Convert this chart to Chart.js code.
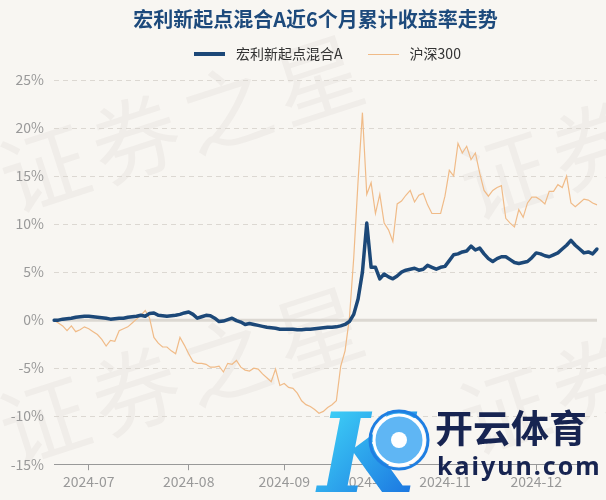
<!DOCTYPE html>
<html>
<head>
<meta charset="utf-8">
<script src="https://cdn.jsdelivr.net/npm/chart.js@4.4.1/dist/chart.umd.min.js"></script>
<style>
  html, body { margin: 0; padding: 0; background: #f8f6f2; }
</style>
</head>
<body>
<canvas id="returnChart" width="606" height="500"></canvas>
<script>
// trading days shown on the x axis
const dates = [
    '2024-06-19','2024-06-20','2024-06-21','2024-06-24','2024-06-25','2024-06-26','2024-06-27','2024-06-28',
    '2024-07-01','2024-07-02','2024-07-03','2024-07-04','2024-07-05','2024-07-08','2024-07-09','2024-07-10',
    '2024-07-11','2024-07-12','2024-07-15','2024-07-16','2024-07-17','2024-07-18','2024-07-19','2024-07-22',
    '2024-07-23','2024-07-24','2024-07-25','2024-07-26','2024-07-29','2024-07-30','2024-07-31',
    '2024-08-01','2024-08-02','2024-08-05','2024-08-06','2024-08-07','2024-08-08','2024-08-09','2024-08-12',
    '2024-08-13','2024-08-14','2024-08-15','2024-08-16','2024-08-19','2024-08-20','2024-08-21','2024-08-22',
    '2024-08-23','2024-08-26','2024-08-27','2024-08-28','2024-08-29','2024-08-30',
    '2024-09-02','2024-09-03','2024-09-04','2024-09-05','2024-09-06','2024-09-09','2024-09-10','2024-09-11',
    '2024-09-12','2024-09-13','2024-09-18','2024-09-19','2024-09-20','2024-09-23','2024-09-24','2024-09-25',
    '2024-09-26','2024-09-27','2024-09-30',
    '2024-10-08','2024-10-09','2024-10-10','2024-10-11','2024-10-14','2024-10-15','2024-10-16','2024-10-17',
    '2024-10-18','2024-10-21','2024-10-22','2024-10-23','2024-10-24','2024-10-25','2024-10-28','2024-10-29',
    '2024-10-30','2024-10-31',
    '2024-11-01','2024-11-04','2024-11-05','2024-11-06','2024-11-07','2024-11-08','2024-11-11','2024-11-12',
    '2024-11-13','2024-11-14','2024-11-15','2024-11-18','2024-11-19','2024-11-20','2024-11-21','2024-11-22',
    '2024-11-25','2024-11-26','2024-11-27','2024-11-28','2024-11-29',
    '2024-12-02','2024-12-03','2024-12-04','2024-12-05','2024-12-06','2024-12-09','2024-12-10','2024-12-11',
    '2024-12-12','2024-12-13','2024-12-16','2024-12-17','2024-12-18','2024-12-19','2024-12-20'
];

// cumulative return, %
const fundReturn = [
    0, 0, 0.1, 0.15, 0.2, 0.3, 0.35, 0.4,
    0.4, 0.35, 0.3, 0.25, 0.2, 0.1, 0.15, 0.2, 0.2, 0.3, 0.35, 0.4, 0.5, 0.4, 0.7, 0.75, 0.5, 0.45, 0.4, 0.45, 0.5, 0.6, 0.75,
    0.85, 0.6, 0.2, 0.35, 0.5, 0.45, 0.2, -0.15, -0.1, 0.05, 0.2, -0.05, -0.2, -0.45, -0.35, -0.45, -0.55, -0.65, -0.75, -0.8, -0.85, -0.95,
    -0.95, -0.95, -0.95, -1.0, -1.0, -0.95, -0.95, -0.9, -0.85, -0.8, -0.75, -0.75, -0.7, -0.6, -0.45, -0.15, 0.6, 2.2, 5.0,
    10.1, 5.5, 5.5, 4.3, 4.8, 4.5, 4.3, 4.6, 5.0, 5.2, 5.3, 5.4, 5.2, 5.3, 5.7, 5.5, 5.3, 5.5,
    5.6, 6.2, 6.8, 6.9, 7.1, 7.2, 7.7, 7.3, 7.5, 6.9, 6.4, 6.1, 6.4, 6.6, 6.6, 6.3, 6.0, 5.9, 6.0, 6.1, 6.5,
    7.0, 6.9, 6.7, 6.6, 6.8, 7.0, 7.4, 7.8, 8.3, 7.8, 7.4, 7.0, 7.1, 6.9, 7.4
];
const hs300Return = [
    0, -0.3, -0.6, -1.1, -0.6, -1.2, -1.0, -0.7,
    -0.9, -1.2, -1.5, -2.0, -2.7, -2.1, -2.2, -1.1, -0.9, -0.7, -0.3, 0.1, 0.5, 1.0, 0.2, -1.8, -2.4, -2.8, -2.8, -3.2, -3.5, -1.8, -2.6,
    -3.5, -4.3, -4.5, -4.5, -4.6, -4.9, -4.9, -4.8, -5.4, -4.5, -4.6, -4.2, -4.9, -5.2, -5.3, -5.0, -5.1, -5.6, -6.0, -6.4, -5.1, -6.8,
    -6.6, -7.0, -7.1, -7.6, -8.4, -8.8, -9.0, -9.3, -9.7, -9.5, -9.1, -8.8, -8.4, -4.8, -3.2, 0.2, 6.5, 14.5, 21.6,
    13.1, 14.3, 11.1, 13.1, 10.1, 9.4, 8.2, 12.1, 12.4, 13.0, 13.5, 12.3, 13.0, 13.2, 12.0, 11.1, 11.1, 11.1,
    12.9, 15.6, 15.0, 18.4, 17.4, 18.1, 16.7, 17.4, 15.3, 13.5, 12.9, 13.5, 13.8, 14.0, 10.6, 10.1, 9.7, 11.5, 10.7, 12.2, 12.8,
    12.8, 12.5, 12.1, 13.4, 13.4, 14.1, 13.8, 15.0, 12.2, 11.8, 12.2, 12.6, 12.5, 12.2, 12.0
];

const FONT = '"Noto Sans CJK SC", "Noto Sans", sans-serif';
Chart.defaults.font.family = FONT;

function isMonthStart(i) {
    return i > 0 && dates[i].slice(5, 7) !== dates[i - 1].slice(5, 7);
}

// small line images for the legend markers
function legendLine(color, thick) {
    const cv = document.createElement('canvas');
    cv.width = 31;
    cv.height = 6;
    const c = cv.getContext('2d');
    c.fillStyle = color;
    c.fillRect(0, Math.round((6 - thick) / 2), 31, thick);
    return cv;
}

// background, watermark, zero line and the logo overlay
const decor = {
    id: 'decor',
    afterLayout(chart) {
        // let the y labels use the space left of the axis box
        chart.scales.y.left = 0;
    },
    beforeDraw(chart) {
        const c = chart.ctx;
        c.save();
        c.fillStyle = '#f8f6f2';
        c.fillRect(0, 0, chart.width, chart.height);
        c.fillStyle = 'rgba(120, 110, 100, 0.06)';
        c.font = '88px ' + FONT;
        c.textAlign = 'center';
        c.textBaseline = 'middle';
        const ang = -18 * Math.PI / 180;
        [[44, 168], [504, 175], [44, 420], [504, 410]].forEach(([ox, oy]) => {
            '证券之星'.split('').forEach((ch, k) => {
                c.save();
                c.translate(ox + k * 96 * Math.cos(ang), oy + k * 96 * Math.sin(ang));
                c.rotate(ang);
                c.fillText(ch, 0, 0);
                c.restore();
            });
        });
        c.restore();
    },
    beforeDatasetsDraw(chart) {
        const c = chart.ctx, area = chart.chartArea;
        const y = chart.scales.y.getPixelForValue(0);
        c.save();
        c.strokeStyle = '#dcd8d2';
        c.lineWidth = 3;
        c.beginPath();
        c.moveTo(area.left, y);
        c.lineTo(area.right, y);
        c.stroke();
        c.restore();
    },
    afterDraw(chart) {
        const c = chart.ctx;
        c.save();
        // K swoosh
        const g = c.createLinearGradient(330, 400, 440, 500);
        g.addColorStop(0, '#3fd3f7');
        g.addColorStop(1, '#1463dc');
        c.fillStyle = g;
        c.font = 'italic bold 110px "DejaVu Serif"';
        c.textBaseline = 'alphabetic';
        c.fillText('K', 318, 492);
        // ball
        c.beginPath();
        c.arc(399, 440, 25, 0, Math.PI * 2);
        c.fillStyle = '#5fb6f4';
        c.fill();
        c.lineWidth = 3;
        c.strokeStyle = '#ffffff';
        c.stroke();
        c.beginPath();
        c.arc(399, 440, 29, 0, Math.PI * 2);
        c.lineWidth = 3;
        c.strokeStyle = '#1f7fe2';
        c.stroke();
        c.fillStyle = '#ffffff';
        c.beginPath();
        c.arc(399, 440, 8, 0, Math.PI * 2);
        c.fill();
        // brand text
        c.fillStyle = '#172451';
        c.textAlign = 'left';
        c.textBaseline = 'middle';
        c.font = 'bold 38px ' + FONT;
        c.fillText('开云体育', 435, 428);
        c.font = 'bold 25px "Noto Sans"';
        c.letterSpacing = '2px';
        c.fillText('kaiyun.com', 437, 468);
        c.restore();
    }
};

const ctx = document.getElementById('returnChart').getContext('2d');
new Chart(ctx, {
    type: 'line',
    data: {
        labels: dates,
        datasets: [
            {
                label: '宏利新起点混合A',
                data: fundReturn,
                borderColor: '#1c4878',
                backgroundColor: '#1c4878',
                borderWidth: 3.5,
                borderJoinStyle: 'round',
                borderCapStyle: 'round',
                pointRadius: 0,
                pointStyle: legendLine('#1c4878', 4),
                tension: 0
            },
            {
                label: '沪深300',
                data: hs300Return,
                borderColor: '#f0bb88',
                backgroundColor: '#f0bb88',
                borderWidth: 1.2,
                pointRadius: 0,
                pointStyle: legendLine('#f0bb88', 1),
                tension: 0
            }
        ]
    },
    options: {
        responsive: false,
        animation: false,
        layout: { padding: { left: 34, right: 9, top: 0, bottom: 7 } },
        plugins: {
            title: {
                display: true,
                text: '宏利新起点混合A近6个月累计收益率走势',
                color: '#1d4a7c',
                font: { size: 20, weight: 'bold', lineHeight: 1 },
                padding: { top: 9, bottom: -3 }
            },
            legend: {
                fullSize: false,
                labels: {
                    usePointStyle: true,
                    pointStyleWidth: 39,
                    color: '#333333',
                    font: { size: 14 },
                    padding: 21
                }
            },
            subtitle: {
                // spacer between legend and plot
                display: true,
                fullSize: false,
                text: '',
                weight: 500,
                font: { size: 9, lineHeight: 1 },
                padding: 0
            },
            tooltip: { enabled: false }
        },
        scales: {
            x: {
                ticks: {
                    autoSkip: false,
                    maxRotation: 0,
                    color: '#999999',
                    font: { size: 14 },
                    padding: 3,
                    callback: (value, index) => isMonthStart(index) ? dates[index].slice(0, 7) : ''
                },
                grid: {
                    drawOnChartArea: false,
                    tickLength: 6,
                    tickColor: c => isMonthStart(c.index) ? '#999999' : 'rgba(0,0,0,0)'
                },
                border: { color: '#999999', width: 1 }
            },
            y: {
                min: -15,
                max: 25,
                ticks: {
                    stepSize: 5,
                    color: '#999999',
                    font: { size: 14 },
                    padding: 10,
                    callback: v => v + '%'
                },
                grid: {
                    drawTicks: false,
                    color: c => (c.tick.value === 0 || c.tick.value === -15) ? 'rgba(0,0,0,0)' : '#dcd8d2'
                },
                border: { display: false, dash: [5, 4] },
                afterFit: scale => { scale.width = 20; }
            }
        }
    },
    plugins: [decor]
});
</script>
</body>
</html>
